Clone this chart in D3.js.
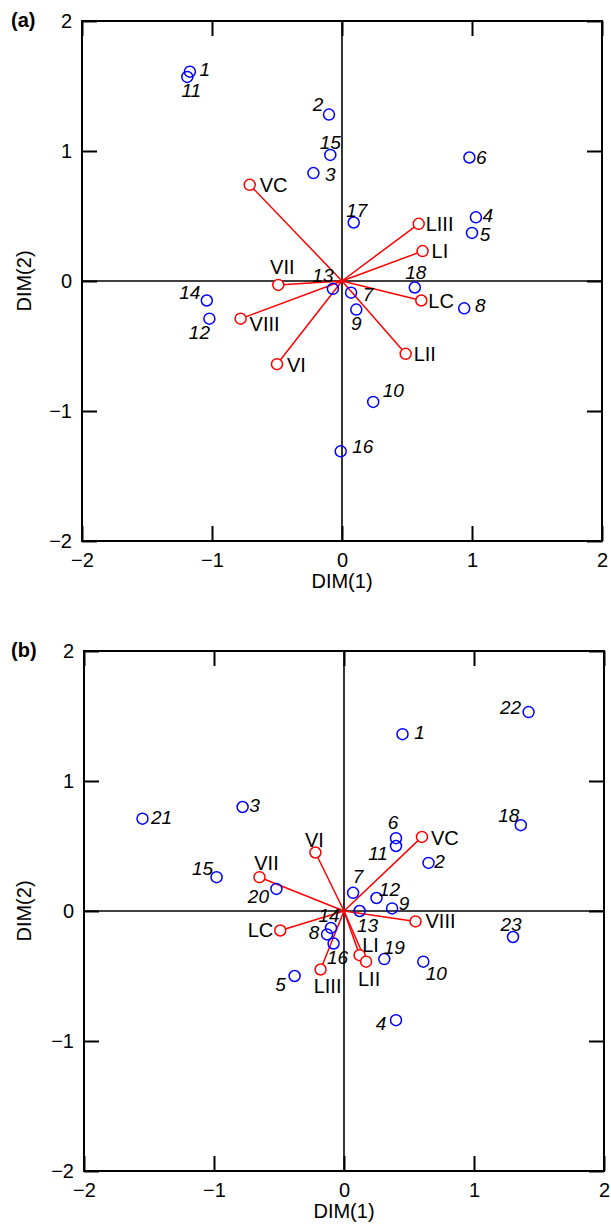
<!DOCTYPE html>
<html>
<head>
<meta charset="utf-8">
<script src="https://cdn.jsdelivr.net/npm/d3@7"></script>
<style>
  body { margin: 0; background: #fff; }
  text { font-family: "Liberation Sans", Arial, Helvetica, sans-serif; fill: #000; }
  .tick-label text { font-size: 20px; }
  .axis-title { font-size: 20px; }
  .panel-tag { font-size: 20px; font-weight: bold; }
  .pt-label { font-size: 19px; font-style: italic; }
  .var-label { font-size: 20px; }
</style>
</head>
<body>
<div id="chart"></div>
<script>
// Two biplots: (a) and (b), DIM(1) vs DIM(2)

// Tick values shared by both panels
const ticks = [-2, -1, 0, 1, 2];

// Panel (a): samples (blue)
const sampleIdsA = ["1", "11", "2", "15", "3", "6", "17", "4", "5", "13", "7", "18", "14", "12", "9", "8", "10", "16"];
const sampleXA = [-1.17, -1.19, -0.10, -0.09, -0.22, 0.98, 0.09, 1.03, 1.00, -0.07, 0.07, 0.56, -1.04, -1.02, 0.11, 0.94, 0.24, -0.01];
const sampleYA = [1.61, 1.57, 1.28, 0.97, 0.83, 0.95, 0.45, 0.49, 0.37, -0.06, -0.09, -0.05, -0.15, -0.29, -0.22, -0.21, -0.93, -1.31];

// Panel (a): variables (red vectors)
const varNamesA = ["VC", "VII", "VIII", "VI", "LIII", "LI", "LC", "LII"];
const varXA = [-0.71, -0.49, -0.78, -0.50, 0.59, 0.62, 0.61, 0.49];
const varYA = [0.74, -0.03, -0.29, -0.64, 0.44, 0.23, -0.15, -0.56];

// Panel (b): samples (blue)
const sampleIdsB = ["21", "3", "15", "20", "22", "1", "18", "6", "11", "2", "7", "12", "9", "13", "23", "14", "8", "16", "19", "10", "4", "5"];
const sampleXB = [-1.55, -0.78, -0.98, -0.52, 1.42, 0.45, 1.36, 0.40, 0.40, 0.65, 0.07, 0.25, 0.37, 0.12, 1.30, -0.10, -0.13, -0.08, 0.31, 0.61, 0.40, -0.38];
const sampleYB = [0.71, 0.80, 0.26, 0.17, 1.53, 1.36, 0.66, 0.56, 0.50, 0.37, 0.14, 0.10, 0.02, 0.00, -0.20, -0.13, -0.18, -0.25, -0.37, -0.39, -0.84, -0.50];

// Panel (b): variables (red vectors)
const varNamesB = ["VII", "VC", "VI", "VIII", "LI", "LII", "LIII", "LC"];
const varXB = [-0.65, 0.60, -0.22, 0.55, 0.12, 0.17, -0.18, -0.49];
const varYB = [0.26, 0.57, 0.45, -0.08, -0.34, -0.39, -0.45, -0.15];

// Label placement (pixel offsets from the marker, anchor)
const labelPosA = {
  "1": [15, -2, "middle"], "11": [4, 14, "middle"], "2": [-11, -10, "middle"],
  "15": [0, -12, "middle"], "3": [17, 1, "middle"], "6": [12, 0, "middle"],
  "17": [3, -12, "middle"], "4": [12, -2, "middle"], "5": [13, 2, "middle"],
  "13": [-10, -13, "middle"], "7": [17, 2, "middle"], "18": [1, -15, "middle"],
  "14": [-17, -8, "middle"], "12": [-10, 14, "middle"], "9": [0, 14, "middle"],
  "8": [16, -3, "middle"], "10": [20, -11, "middle"], "16": [22, -5, "middle"],
  "VC": [10, 0, "start"], "VII": [4, -18, "middle"], "VIII": [9, 5, "start"],
  "VI": [10, 1, "start"], "LIII": [7, 0, "start"], "LI": [9, 0, "start"],
  "LC": [7, 0, "start"], "LII": [8, 0, "start"]
};
const labelPosB = {
  "21": [19, -1, "middle"], "3": [12, -2, "middle"], "15": [-14, -9, "middle"],
  "20": [-18, 8, "middle"], "22": [-18, -5, "middle"], "1": [17, -2, "middle"],
  "18": [-12, -10, "middle"], "6": [-3, -16, "middle"], "11": [-18, 7, "middle"],
  "2": [11, -1, "middle"], "7": [5, -16, "middle"], "12": [13, -9, "middle"],
  "9": [12, -5, "middle"], "13": [8, 14, "middle"], "23": [-2, -13, "middle"],
  "14": [-2, -12, "middle"], "8": [-13, -2, "middle"], "16": [4, 14, "middle"],
  "19": [10, -12, "middle"], "10": [13, 12, "middle"], "4": [-15, 3, "middle"],
  "5": [-14, 8, "middle"],
  "VII": [7, -14, "middle"], "VC": [9, 1, "start"], "VI": [-1, -13, "middle"],
  "VIII": [10, 0, "start"], "LI": [11, -10, "middle"], "LII": [3, 17, "middle"],
  "LIII": [7, 16, "middle"], "LC": [-7, -1, "end"]
};

const width = 611;
const height = 1230;

const svg = d3.select("#chart")
  .append("svg")
  .attr("width", width)
  .attr("height", height);

function drawPanel(opt) {
  const x = d3.scaleLinear().domain([-2, 2]).range([opt.left, opt.left + 520]);
  const y = d3.scaleLinear().domain([-2, 2]).range([opt.top + 520, opt.top]);
  const g = svg.append("g");

  // zero lines
  g.append("line")
    .attr("x1", x(-2)).attr("x2", x(2))
    .attr("y1", y(0)).attr("y2", y(0))
    .attr("stroke", "#000").attr("stroke-width", 1.6);
  g.append("line")
    .attr("x1", x(0)).attr("x2", x(0))
    .attr("y1", y(-2)).attr("y2", y(2))
    .attr("stroke", "#000").attr("stroke-width", 1.6);

  // inner ticks on all four sides
  const tickAxes = [
    [d3.axisBottom(x), `translate(0,${y(-2)})`],
    [d3.axisTop(x), `translate(0,${y(2)})`],
    [d3.axisLeft(y), `translate(${x(-2)},0)`],
    [d3.axisRight(y), `translate(${x(2)},0)`]
  ];
  tickAxes.forEach(([ax, tr]) => {
    const a = g.append("g")
      .attr("transform", tr)
      .call(ax.tickValues(ticks).tickSize(-15).tickFormat(""));
    a.select(".domain").remove();
    a.selectAll(".tick line").attr("stroke", "#000").attr("stroke-width", 2);
  });

  // tick labels
  const fmt = d3.format("d");
  const xl = g.append("g")
    .attr("class", "tick-label")
    .attr("transform", `translate(0,${y(-2)})`)
    .call(d3.axisBottom(x).tickValues(ticks).tickFormat(fmt).tickSize(0).tickPadding(12));
  xl.select(".domain").remove();
  xl.selectAll("text").attr("font-family", null).attr("font-size", null);

  const yl = g.append("g")
    .attr("class", "tick-label")
    .attr("transform", `translate(${x(-2)},0)`)
    .call(d3.axisLeft(y).tickValues(ticks).tickFormat(fmt).tickSize(0).tickPadding(10));
  yl.select(".domain").remove();
  yl.selectAll("text").attr("font-family", null).attr("font-size", null);

  // frame
  g.append("rect")
    .attr("x", x(-2)).attr("y", y(2))
    .attr("width", x(2) - x(-2)).attr("height", y(-2) - y(2))
    .attr("fill", "none").attr("stroke", "#000").attr("stroke-width", 2);

  // red vectors
  const vars = opt.varNames.map((n, i) => ({ name: n, x: opt.varX[i], y: opt.varY[i] }));
  g.selectAll(".vec")
    .data(vars)
    .enter()
    .append("line")
    .attr("x1", x(0)).attr("y1", y(0))
    .attr("x2", d => x(d.x)).attr("y2", d => y(d.y))
    .attr("stroke", "#ff0000").attr("stroke-width", 1.5);
  g.selectAll(".vec-dot")
    .data(vars)
    .enter()
    .append("circle")
    .attr("cx", d => x(d.x)).attr("cy", d => y(d.y))
    .attr("r", 5.5)
    .attr("fill", "#fff").attr("stroke", "#ff0000").attr("stroke-width", 1.5);

  // blue samples
  const samples = opt.sampleIds.map((n, i) => ({ name: n, x: opt.sampleX[i], y: opt.sampleY[i] }));
  g.selectAll(".pt")
    .data(samples)
    .enter()
    .append("circle")
    .attr("cx", d => x(d.x)).attr("cy", d => y(d.y))
    .attr("r", 5.5)
    .attr("fill", "none").attr("stroke", "#0000ff").attr("stroke-width", 1.5);

  // labels
  const lab = (d, cls) => {
    const p = opt.labelPos[d.name];
    g.append("text")
      .attr("class", cls)
      .attr("x", x(d.x) + p[0])
      .attr("y", y(d.y) + p[1])
      .attr("text-anchor", p[2])
      .attr("dominant-baseline", "central")
      .text(d.name);
  };
  samples.forEach(d => lab(d, "pt-label"));
  vars.forEach(d => lab(d, "var-label"));

  // axis titles
  svg.append("text")
    .attr("class", "axis-title")
    .attr("x", x(0))
    .attr("y", y(-2) + 47)
    .attr("text-anchor", "middle")
    .text("DIM(1)");
  svg.append("text")
    .attr("class", "axis-title")
    .attr("transform", `translate(31,${y(0)}) rotate(-90)`)
    .attr("text-anchor", "middle")
    .text("DIM(2)");

  // panel tag
  svg.append("text")
    .attr("class", "panel-tag")
    .attr("x", 11)
    .attr("y", opt.top + 6)
    .text(opt.tag);
}

drawPanel({
  tag: "(a)", left: 82, top: 21,
  sampleIds: sampleIdsA, sampleX: sampleXA, sampleY: sampleYA,
  varNames: varNamesA, varX: varXA, varY: varYA, labelPos: labelPosA
});

drawPanel({
  tag: "(b)", left: 84, top: 651,
  sampleIds: sampleIdsB, sampleX: sampleXB, sampleY: sampleYB,
  varNames: varNamesB, varX: varXB, varY: varYB, labelPos: labelPosB
});
</script>
</body>
</html>
